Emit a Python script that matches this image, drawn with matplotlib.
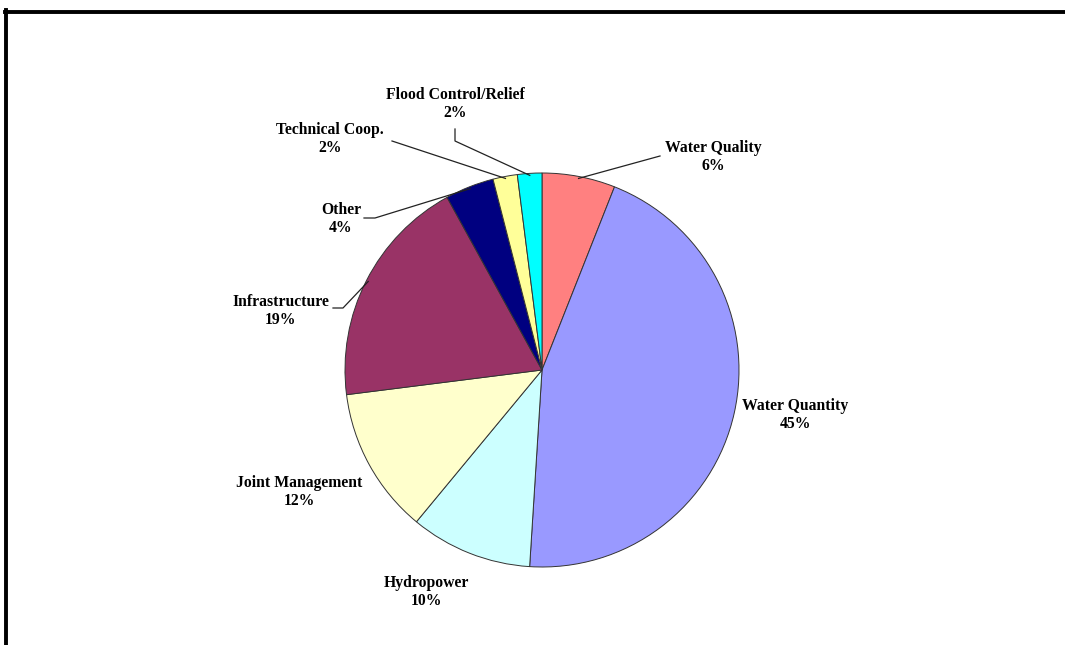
import numpy as np
import matplotlib
matplotlib.use('Agg')
import matplotlib.pyplot as plt
from matplotlib.lines import Line2D

# data
categories = ['Water Quality', 'Water Quantity', 'Hydropower', 'Joint Management',
              'Infrastructure', 'Other', 'Technical Coop.', 'Flood Control/Relief']
shares = [6, 45, 10, 12, 19, 4, 2, 2]
colors = ['#FF8080', '#9999FF', '#CCFFFF', '#FFFFCC', '#993366', '#000080', '#FFFF99', '#00FFFF']

W, H = 1065, 645
cx, cy, R = 542, 370, 197   # pie centre and radius in pixels


def px(x, y):
    # pixel position -> data coords of the pie axes (radius 1)
    return (x - cx) / R, (cy - y) / R


fig = plt.figure(figsize=(W / 100, H / 100), dpi=100)
ax = fig.add_axes([(cx - R) / W, (H - cy - R) / H, 2 * R / W, 2 * R / H])
wedges, _ = ax.pie(shares, colors=colors, startangle=90, counterclock=False, radius=1,
                   wedgeprops=dict(edgecolor='#333333', linewidth=0.7))
ax.set_xlim(-1, 1)
ax.set_ylim(-1, 1)
ax.set_aspect('equal')
ax.axis('off')

# label centre (px) and leader path start (px), None = no leader
label_pos = {
    'Water Quality': ((713, 157), [(660, 156)]),
    'Water Quantity': ((795, 415), None),
    'Hydropower': ((426, 592), None),
    'Joint Management': ((299, 492), None),
    'Infrastructure': ((281, 311), [(333, 308), (343, 308)]),
    'Other': ((341, 219), [(364, 218), (375, 218)]),
    'Technical Coop.': ((330, 139), [(392, 141)]),
    'Flood Control/Relief': ((455, 104), [(455, 129), (455, 141)]),
}

for w, name, val in zip(wedges, categories, shares):
    (tx, ty), leader = label_pos[name]
    x, y = px(tx, ty)
    ax.text(x, y, f'{name}\n{val}%', ha='center', va='center', fontsize=11.3,
            fontweight='bold', family='Liberation Serif', linespacing=1.2,
            clip_on=False)
    if leader:
        ang = np.deg2rad((w.theta1 + w.theta2) / 2)
        pts = [px(a, b) for a, b in leader] + [(np.cos(ang) * 0.99, np.sin(ang) * 0.99)]
        xs, ys = zip(*pts)
        ax.plot(xs, ys, color='#222222', lw=0.9, clip_on=False)

# page frame: top and left edges only
fig.add_artist(Line2D([5 / W, 1], [1 - 11.5 / H, 1 - 11.5 / H], color='black', lw=2.8))
fig.add_artist(Line2D([5.5 / W, 5.5 / W], [0, 1 - 10 / H], color='black', lw=2.8))

fig.savefig('out.png', dpi=100)
